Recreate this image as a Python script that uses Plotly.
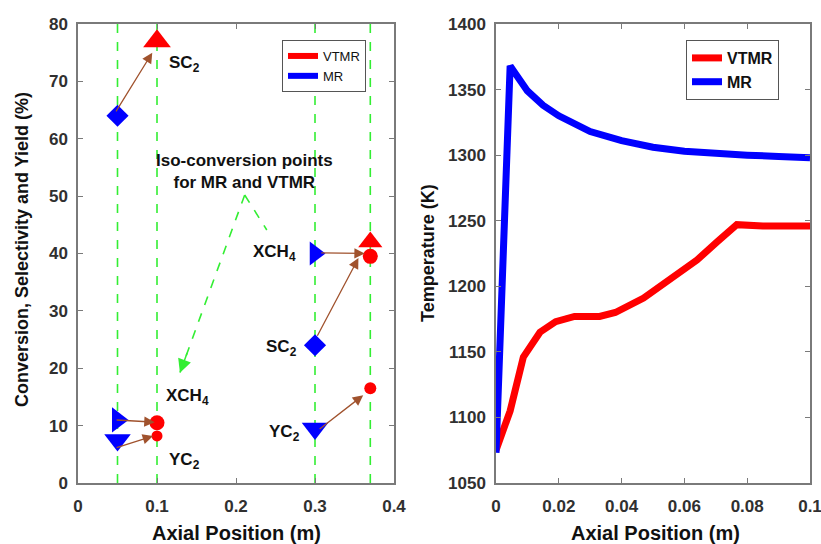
import plotly.graph_objects as go

# ---------------- data ----------------
# Left panel: iso-conversion points
guide_x = [0.05, 0.1, 0.3, 0.37]

mr_x = [0.05, 0.05, 0.05, 0.3, 0.3, 0.3]
mr_y = [64.0, 11.0, 7.5, 40.0, 24.0, 9.5]
mr_sym = ["diamond", "triangle-right", "triangle-down", "triangle-right", "diamond", "triangle-down"]
mr_size = [17, 22, 23, 21, 17, 23]

vt_x = [0.1, 0.1, 0.1, 0.37, 0.37, 0.37]
vt_y = [77.0, 10.5, 8.2, 42.0, 39.5, 16.5]
vt_sym = ["triangle-up", "circle", "circle", "triangle-up", "circle", "circle"]
vt_size = [24, 15, 11, 21, 15, 12]

# arrows (start -> tip)
arr_x0 = [0.047, 0.047, 0.047, 0.302, 0.306, 0.304]
arr_y0 = [64.5, 11.0, 6.1, 25.4, 40.1, 9.2]
arr_x1 = [0.094, 0.097, 0.095, 0.355, 0.363, 0.361]
arr_y1 = [75.0, 10.6, 8.2, 39.2, 40.0, 15.3]

lbl_text = ["SC<sub>2</sub>", "XCH<sub>4</sub>", "YC<sub>2</sub>", "XCH<sub>4</sub>", "SC<sub>2</sub>", "YC<sub>2</sub>"]
lbl_x = [0.135, 0.138, 0.135, 0.249, 0.258, 0.262]
lbl_y = [73.0, 15.0, 3.8, 40.0, 23.5, 8.8]

iso_text = "Iso-conversion points<br>for MR and VTMR"
iso_x, iso_y = 0.211, 54.3
iso_apex = (0.211, 50.2)
iso_tips_x = [0.239, 0.129]
iso_tips_y = [44.1, 19.2]

# Right panel: temperature profiles
mr_tx = [0, 0.0045, 0.01, 0.015, 0.02, 0.03, 0.04, 0.05, 0.06, 0.07, 0.08, 0.09, 0.1]
mr_T = [1073, 1368, 1349, 1338, 1330, 1318, 1311, 1306, 1303, 1301, 1300, 1299, 1298]

vt_tx = [0, 0.0045, 0.0087, 0.014, 0.019, 0.025, 0.033, 0.038, 0.047, 0.055, 0.064, 0.0705, 0.0767, 0.085, 0.1]
vt_T = [1075, 1105, 1146, 1165, 1173, 1177, 1177, 1180, 1191, 1204, 1220, 1234, 1247, 1246, 1246]

left_xticks = [0, 0.1, 0.2, 0.3, 0.4]
left_xlabels = ["0", "0.1", "0.2", "0.3", "0.4"]
left_yticks = [0, 10, 20, 30, 40, 50, 60, 70, 80]
right_xticks = [0, 0.02, 0.04, 0.06, 0.08, 0.1]
right_xlabels = ["0", "0.02", "0.04", "0.06", "0.08", "0.1"]
right_yticks = [1050, 1100, 1150, 1200, 1250, 1300, 1350, 1400]

# ---------------- styling ----------------
FONT = "Liberation Sans, Arial, sans-serif"
RED = "#ff0000"
BLUE = "#0000ff"
GREEN = "#33ee33"
BROWN = "#a0522d"
AXC = "#7a7a7a"
TICKC = "#303030"

fig = go.Figure()

# guide lines (left)
for gx in guide_x:
    fig.add_trace(go.Scatter(x=[gx, gx], y=[0, 80], mode="lines",
                             line=dict(color=GREEN, width=1.6, dash="dash"),
                             showlegend=False, hoverinfo="skip", xaxis="x", yaxis="y"))

# green dashed iso arrows
for tx, ty in zip(iso_tips_x, iso_tips_y):
    fig.add_trace(go.Scatter(x=[iso_apex[0], tx], y=[iso_apex[1], ty], mode="lines",
                             line=dict(color=GREEN, width=1.6, dash="dash"),
                             showlegend=False, hoverinfo="skip", xaxis="x", yaxis="y"))

# markers
fig.add_trace(go.Scatter(x=mr_x, y=mr_y, mode="markers",
                         marker=dict(symbol=mr_sym, size=mr_size, color=BLUE, opacity=1, line=dict(width=0)),
                         cliponaxis=False, showlegend=False, xaxis="x", yaxis="y"))
fig.add_trace(go.Scatter(x=vt_x, y=vt_y, mode="markers",
                         marker=dict(symbol=vt_sym, size=vt_size, color=RED, opacity=1, line=dict(width=0)),
                         cliponaxis=False, showlegend=False, xaxis="x", yaxis="y"))

# left legend dummies
fig.add_trace(go.Scatter(x=[None], y=[None], mode="lines", name="VTMR",
                         line=dict(color=RED, width=6), legend="legend", xaxis="x", yaxis="y"))
fig.add_trace(go.Scatter(x=[None], y=[None], mode="lines", name="MR",
                         line=dict(color=BLUE, width=6), legend="legend", xaxis="x", yaxis="y"))

# right panel lines
fig.add_trace(go.Scatter(x=vt_tx, y=vt_T, mode="lines", name="VTMR",
                         line=dict(color=RED, width=7), legend="legend2", xaxis="x2", yaxis="y2"))
fig.add_trace(go.Scatter(x=mr_tx, y=mr_T, mode="lines", name="MR",
                         line=dict(color=BLUE, width=7), legend="legend2", xaxis="x2", yaxis="y2"))

annotations = []
for x0, y0, x1, y1 in zip(arr_x0, arr_y0, arr_x1, arr_y1):
    annotations.append(dict(x=x1, y=y1, ax=x0, ay=y0, xref="x", yref="y", axref="x", ayref="y",
                            text="", showarrow=True, arrowhead=2, arrowsize=1.6, arrowwidth=1.3,
                            arrowcolor=BROWN, standoff=0))
for tx, ty in zip(iso_tips_x, iso_tips_y):
    dx = (tx - iso_apex[0]) * 0.12
    dy = (ty - iso_apex[1]) * 0.12
    annotations.append(dict(x=tx, y=ty, ax=tx - dx, ay=ty - dy, xref="x", yref="y", axref="x", ayref="y",
                            text="", showarrow=True, arrowhead=2, arrowsize=1.8, arrowwidth=1.5,
                            arrowcolor=GREEN, standoff=0))
for t, x, y in zip(lbl_text, lbl_x, lbl_y):
    annotations.append(dict(x=x, y=y, xref="x", yref="y", text=t, showarrow=False,
                            xanchor="center", yanchor="middle",
                            font=dict(family=FONT, size=17, color="#111111", weight="bold")))
annotations.append(dict(x=iso_x, y=iso_y, xref="x", yref="y", text=iso_text, showarrow=False,
                        xanchor="center", yanchor="middle",
                        font=dict(family=FONT, size=17, color="#111111", weight="bold")))

# axis titles
ytitle_font = dict(family=FONT, size=18, color="#111111", weight="bold")
xtitle_font = dict(family=FONT, size=20, color="#111111", weight="bold")
annotations += [
    dict(x=22 / 821, y=1 - 250 / 544, xref="paper", yref="paper", text="Conversion, Selectivity and Yield (%)",
         textangle=-90, showarrow=False, xanchor="center", yanchor="middle", font=ytitle_font),
    dict(x=236 / 821, y=1 - 533 / 544, xref="paper", yref="paper", text="Axial Position (m)",
         showarrow=False, xanchor="center", yanchor="middle", font=xtitle_font),
    dict(x=428 / 821, y=1 - 253 / 544, xref="paper", yref="paper", text="Temperature (K)",
         textangle=-90, showarrow=False, xanchor="center", yanchor="middle", font=ytitle_font),
    dict(x=655 / 821, y=1 - 533 / 544, xref="paper", yref="paper", text="Axial Position (m)",
         showarrow=False, xanchor="center", yanchor="middle", font=xtitle_font),
]

tick_font = dict(family=FONT, size=17, color=TICKC, weight="bold")
axis_common = dict(showgrid=False, zeroline=False, showline=True, linecolor=AXC, linewidth=1.5,
                   mirror="allticks", ticks="inside", ticklen=5, tickcolor=AXC, tickwidth=1.2,
                   tickfont=tick_font, automargin=False, ticklabeloverflow="allow")

ydom = [1 - 483 / 544, 1 - 24 / 544]
fig.update_layout(
    template="none",
    width=821, height=544,
    margin=dict(l=0, r=0, t=0, b=0, pad=0),
    paper_bgcolor="white", plot_bgcolor="white",
    font=dict(family=FONT),
    xaxis=dict(domain=[78 / 821, 394 / 821], range=[0, 0.4], tickvals=left_xticks,
               ticktext=left_xlabels, anchor="y", ticklabelstandoff=7, **axis_common),
    yaxis=dict(domain=ydom, range=[0, 80], tickvals=left_yticks, anchor="x",
               ticklabelstandoff=5, **axis_common),
    xaxis2=dict(domain=[496 / 821, 810 / 821], range=[0, 0.1], tickvals=right_xticks,
                ticktext=right_xlabels, anchor="y2", ticklabelstandoff=7, **axis_common),
    yaxis2=dict(domain=ydom, range=[1050, 1400], tickvals=right_yticks, anchor="x2",
                ticklabelstandoff=5, **axis_common),
    legend=dict(x=282 / 821, y=1 - 40 / 544, xanchor="left", yanchor="top",
                bgcolor="white", bordercolor="#555555", borderwidth=1,
                font=dict(family=FONT, size=13, color="#111111"),
                tracegroupgap=0, itemwidth=30),
    legend2=dict(x=686 / 821, y=1 - 40 / 544, xanchor="left", yanchor="top",
                 bgcolor="white", bordercolor="#555555", borderwidth=1,
                 font=dict(family=FONT, size=16, color="#111111", weight="bold"),
                 tracegroupgap=0, itemwidth=30),
    annotations=annotations,
)

fig.write_html("out.html", config={"displayModeBar": False},
               post_script="document.body.style.margin='0px';")
